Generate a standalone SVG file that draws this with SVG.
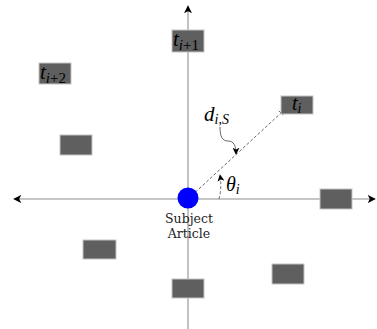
<svg xmlns="http://www.w3.org/2000/svg" width="377" height="329" viewBox="0 0 377 329">
<style>
.axis{stroke:#b3b3b3;stroke-width:1.6;fill:none}
.box{fill:#5f5f5f;stroke:#c4c4c4;stroke-width:1}
.dash{stroke:#444;stroke-width:0.8;stroke-dasharray:3 2;fill:none}
.thin{stroke:#444;stroke-width:0.8;fill:none}
.math{font-family:"Liberation Serif","Times New Roman",serif;font-style:italic;fill:#000}
.up{font-style:normal}
.lbl{font-family:"DejaVu Serif",serif;font-size:12.5px;fill:#222;text-anchor:middle}
</style>
<defs>
<marker id="ah" viewBox="0 0 10 10" refX="9" refY="5" markerWidth="8" markerHeight="8" markerUnits="userSpaceOnUse" orient="auto">
<path d="M0,0 L10,5 L0,10 L2.5,5 Z" fill="#000"/>
</marker>
<marker id="sh" viewBox="0 0 10 10" refX="9" refY="5" markerWidth="7" markerHeight="7" markerUnits="userSpaceOnUse" orient="auto">
<path d="M0,0 L10,5 L0,10 L2.5,5 Z" fill="#000"/>
</marker>
</defs>
<g id="connectors">
<line class="axis" x1="188" y1="199" x2="375" y2="199" marker-end="url(#ah)"/>
<line class="axis" x1="188" y1="199" x2="14" y2="199" marker-end="url(#ah)"/>
<line class="axis" x1="188" y1="199" x2="188" y2="6" marker-end="url(#ah)"/>
<line class="axis" x1="188" y1="199" x2="188" y2="329"/>
<line class="dash" x1="188" y1="199" x2="281" y2="113"/>
<line class="thin" x1="278.8" y1="110.8" x2="283.2" y2="115.2"/>
<path class="dash" d="M219,199 Q222,188 220,175" marker-end="url(#sh)"/>
<path class="thin" d="M220,127 C220,136 222,141 228,141 C234,141 236,146 236,154" marker-end="url(#sh)"/>
</g>
<g id="node-ti1"><rect class="box" x="172" y="30" width="32" height="22"/><text class="math" x="173" y="46" font-size="21">t<tspan font-size="15" dy="4">i</tspan><tspan class="up" font-size="15">+1</tspan></text></g>
<g id="node-ti2"><rect class="box" x="39" y="63" width="32" height="21"/><text class="math" x="40" y="79" font-size="21">t<tspan font-size="15" dy="4">i</tspan><tspan class="up" font-size="15">+2</tspan></text></g>
<g id="node-ti"><rect class="box" x="281" y="96" width="32" height="18"/><text class="math" x="292" y="110" font-size="20">t<tspan font-size="14" dy="3">i</tspan></text></g>
<g id="node-a"><rect class="box" x="60" y="135" width="32" height="20"/></g>
<g id="node-b"><rect class="box" x="320" y="189" width="32" height="20"/></g>
<g id="node-c"><rect class="box" x="83" y="240" width="33" height="19"/></g>
<g id="node-d"><rect class="box" x="172" y="279" width="32" height="19"/></g>
<g id="node-e"><rect class="box" x="272" y="264" width="32" height="20"/></g>
<g id="node-subject"><circle cx="188" cy="198" r="10.5" fill="#0000ff"/><text class="lbl" x="189" y="223">Subject</text><text class="lbl" x="189" y="238">Article</text></g>
<g id="label-d"><text class="math" x="204" y="121" font-size="21">d<tspan font-size="14" dy="3">i,S</tspan></text></g>
<g id="label-theta"><text class="math" x="226" y="191" font-size="20">θ<tspan font-size="14" dy="3">i</tspan></text></g>
</svg>
